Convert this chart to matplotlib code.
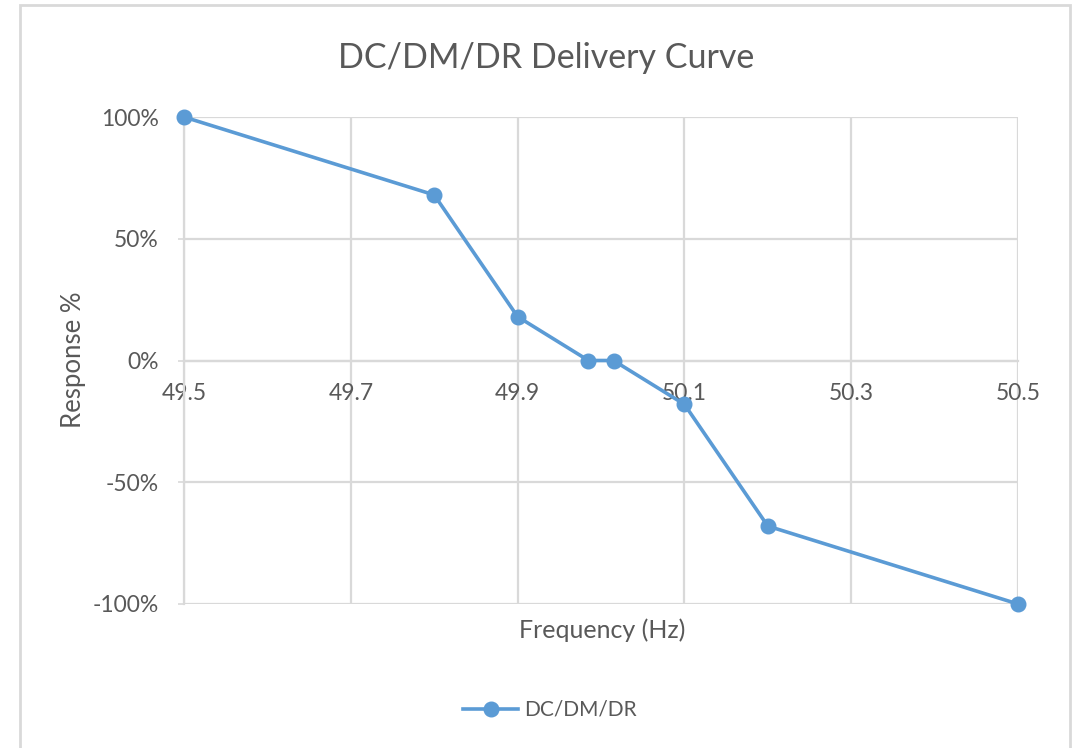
import matplotlib
matplotlib.use("Agg")
import matplotlib.pyplot as plt
from matplotlib.patches import Rectangle
from matplotlib.ticker import FuncFormatter

plt.rcParams["font.family"] = ["Lato", "DejaVu Sans"]

LINE_BLUE = "#5b9bd5"
GRID_GRAY = "#d9d9d9"
TEXT_GRAY = "#595959"

freq_hz = [49.5, 49.8, 49.9, 49.985, 50.015, 50.1, 50.2, 50.5]
response = [1.00, 0.68, 0.18, 0.0, 0.0, -0.18, -0.68, -1.00]
x_ticks = [49.5, 49.7, 49.9, 50.1, 50.3, 50.5]
y_ticks = [-1.0, -0.5, 0.0, 0.5, 1.0]
series_name = "DC/DM/DR"

W, H = 1079, 748
fig = plt.figure(figsize=(W / 100, H / 100), dpi=100)
fig.patch.set_facecolor("white")

# chart frame like the spreadsheet export
fig.patches.append(Rectangle((20 / W, -0.05), 1050 / W, 1.05 - 5 / H,
                             transform=fig.transFigure, fill=False,
                             edgecolor=GRID_GRAY, linewidth=2.0))

ax = fig.add_axes([184 / W, 1 - 604 / H, (1018 - 184) / W, (604 - 117) / H])
ax.plot(freq_hz, response, color=LINE_BLUE, linewidth=2.6, marker="o",
        markersize=10.5, label=series_name, zorder=3, clip_on=False)

ax.set_xlim(49.5, 50.5)
ax.set_ylim(-1.0, 1.0)
ax.set_xticks(x_ticks)
ax.set_yticks(y_ticks)
ax.xaxis.set_major_formatter(FuncFormatter(lambda v, _: f"{v:.1f}"))
ax.yaxis.set_major_formatter(FuncFormatter(lambda v, _: f"{v * 100:.0f}%"))
ax.grid(True, color=GRID_GRAY, linewidth=1.6)
ax.set_axisbelow(True)

for side in ("top", "right"):
    ax.spines[side].set_visible(False)
ax.spines["bottom"].set_position(("data", 0))
ax.spines["bottom"].set_color(GRID_GRAY)
ax.spines["bottom"].set_linewidth(1.6)
ax.spines["left"].set_color(GRID_GRAY)
ax.spines["left"].set_linewidth(1.6)

ax.tick_params(axis="x", length=0, pad=16, labelsize=16.5, colors=TEXT_GRAY)
ax.tick_params(axis="y", length=4, width=1.2, color=GRID_GRAY, pad=14,
               labelsize=16.5, labelcolor=TEXT_GRAY)

fig.text(546 / W, 1 - 58 / H, "DC/DM/DR Delivery Curve", ha="center", va="center",
         fontsize=24.5, color=TEXT_GRAY)
fig.text(602 / W, 1 - 630 / H, "Frequency (Hz)", ha="center", va="center",
         fontsize=18, color=TEXT_GRAY)
fig.text(73 / W, 1 - 360 / H, "Response %", ha="center", va="center",
         rotation=90, fontsize=18.5, color=TEXT_GRAY)

fig.legend(loc="center", bbox_to_anchor=(550 / W, 1 - 710 / H), frameon=False,
           fontsize=15, handlelength=2.6, labelcolor=TEXT_GRAY, handletextpad=0.3)

fig.savefig("out.png", dpi=100)
